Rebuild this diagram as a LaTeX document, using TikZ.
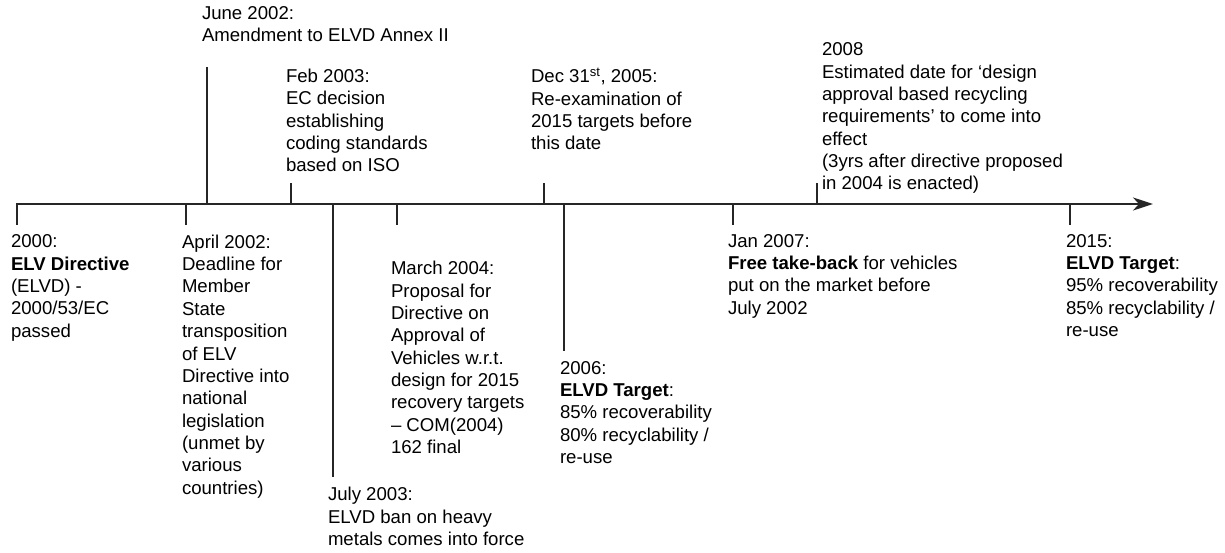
\documentclass[tikz,border=0pt]{standalone}
\usepackage{fontspec}
\setmainfont{Liberation Sans}
\usetikzlibrary{%
		arrows.meta%
	}

\tikzset{
	axisline/.style={line width=2.4pt, draw=black!85},
	tick/.style={line width=2.3pt, draw=black!85},
	event/.style={font=\fontsize{18.6}{22.35}\selectfont, align=left, inner sep=0pt, outer sep=0pt,
		execute at begin node=\strut, execute at end node=\strut},
	below event/.style={event, anchor=north west},
	above event/.style={event, anchor=south west}
}

\begin{document}
\begin{tikzpicture}[x=1pt, y=-1pt]
			\useasboundingbox (0,0) rectangle (1225,553);
			
			% time axis
			\coordinate (start) at (15.85,204);
			\coordinate (end) at (1153,204);
			\draw[axisline, -{Stealth[length=20pt, width=13pt, inset=6pt]}] (start) -- (end);
			
			\coordinate (a2000) at (17,204);
			\coordinate (aApr02) at (186,204);
			\coordinate (aJun02) at (207,204);
			\coordinate (aFeb03) at (291,204);
			\coordinate (aJul03) at (333,204);
			\coordinate (aMar04) at (397,204);
			\coordinate (aDec05) at (544,204);
			\coordinate (a2006) at (564,204);
			\coordinate (aJan07) at (733,204);
			\coordinate (a2008) at (817,204);
			\coordinate (a2015) at (1070,204);
			
			% events below the axis
			\node[below event] (n2000) at (11,234.8) {2000:\\\textbf{ELV Directive}\\(ELVD) -\\2000/53/EC\\passed};
			\node[below event] (nApr02) at (182,234.8) {April 2002:\\Deadline for\\Member\\State\\transposition\\of ELV\\Directive into\\national\\legislation\\(unmet by\\various\\countries)};
			\node[below event] (nJul03) at (328,487.3) {July 2003:\\ELVD ban on heavy\\metals comes into force};
			\node[below event] (nMar04) at (391,261.3) {March 2004:\\Proposal for\\Directive on\\Approval of\\Vehicles w.r.t.\\design for 2015\\recovery targets\\– COM(2004)\\162 final};
			\node[below event] (n2006) at (560,361.3) {2006:\\\textbf{ELVD Target}:\\85\% recoverability\\80\% recyclability /\\re-use};
			\node[below event] (nJan07) at (728,234.3) {Jan 2007:\\\textbf{Free take-back} for vehicles\\put on the market before\\July 2002};
			\node[below event] (n2015) at (1066,234.3) {2015:\\\textbf{ELVD Target}:\\95\% recoverability\\85\% recyclability /\\re-use};
			
			% events above the axis
			\node[above event] (nJun02) at (202,48.4) {June 2002:\\Amendment to ELVD Annex II};
			\node[above event] (nFeb03) at (286,178.7) {Feb 2003:\\EC decision\\establishing\\coding standards\\based on ISO};
			\node[above event] (nDec05) at (531,156.7) {Dec 31\textsuperscript{st}, 2005:\\Re-examination of\\2015 targets before\\this date};
			\node[above event] (n2008) at (822,196.7) {2008\\Estimated date for ‘design\\approval based recycling\\requirements’ to come into\\effect\\(3yrs after directive proposed\\in 2004 is enacted)};
			
			% ticks
			\draw[tick] (a2000) -- ++(0,21);
			\draw[tick] (aApr02) -- ++(0,21);
			\draw[tick] (aMar04) -- ++(0,21);
			\draw[tick] (aJan07) -- ++(0,21);
			\draw[tick] (a2015) -- ++(0,21);
			\draw[tick, shorten >=10.3pt] (aJul03) -- (aJul03 |- nJul03.north);
			\draw[tick, shorten >=10.3pt] (a2006) -- (a2006 |- n2006.north);
			\draw[tick, shorten >=18.6pt] (aJun02) -- (aJun02 |- nJun02.south);
			\draw[tick] (aFeb03) -- ++(0,-21);
			\draw[tick] (aDec05) -- ++(0,-21);
			\draw[tick] (a2008) -- ++(0,-21);
		\end{tikzpicture}
\end{document}
